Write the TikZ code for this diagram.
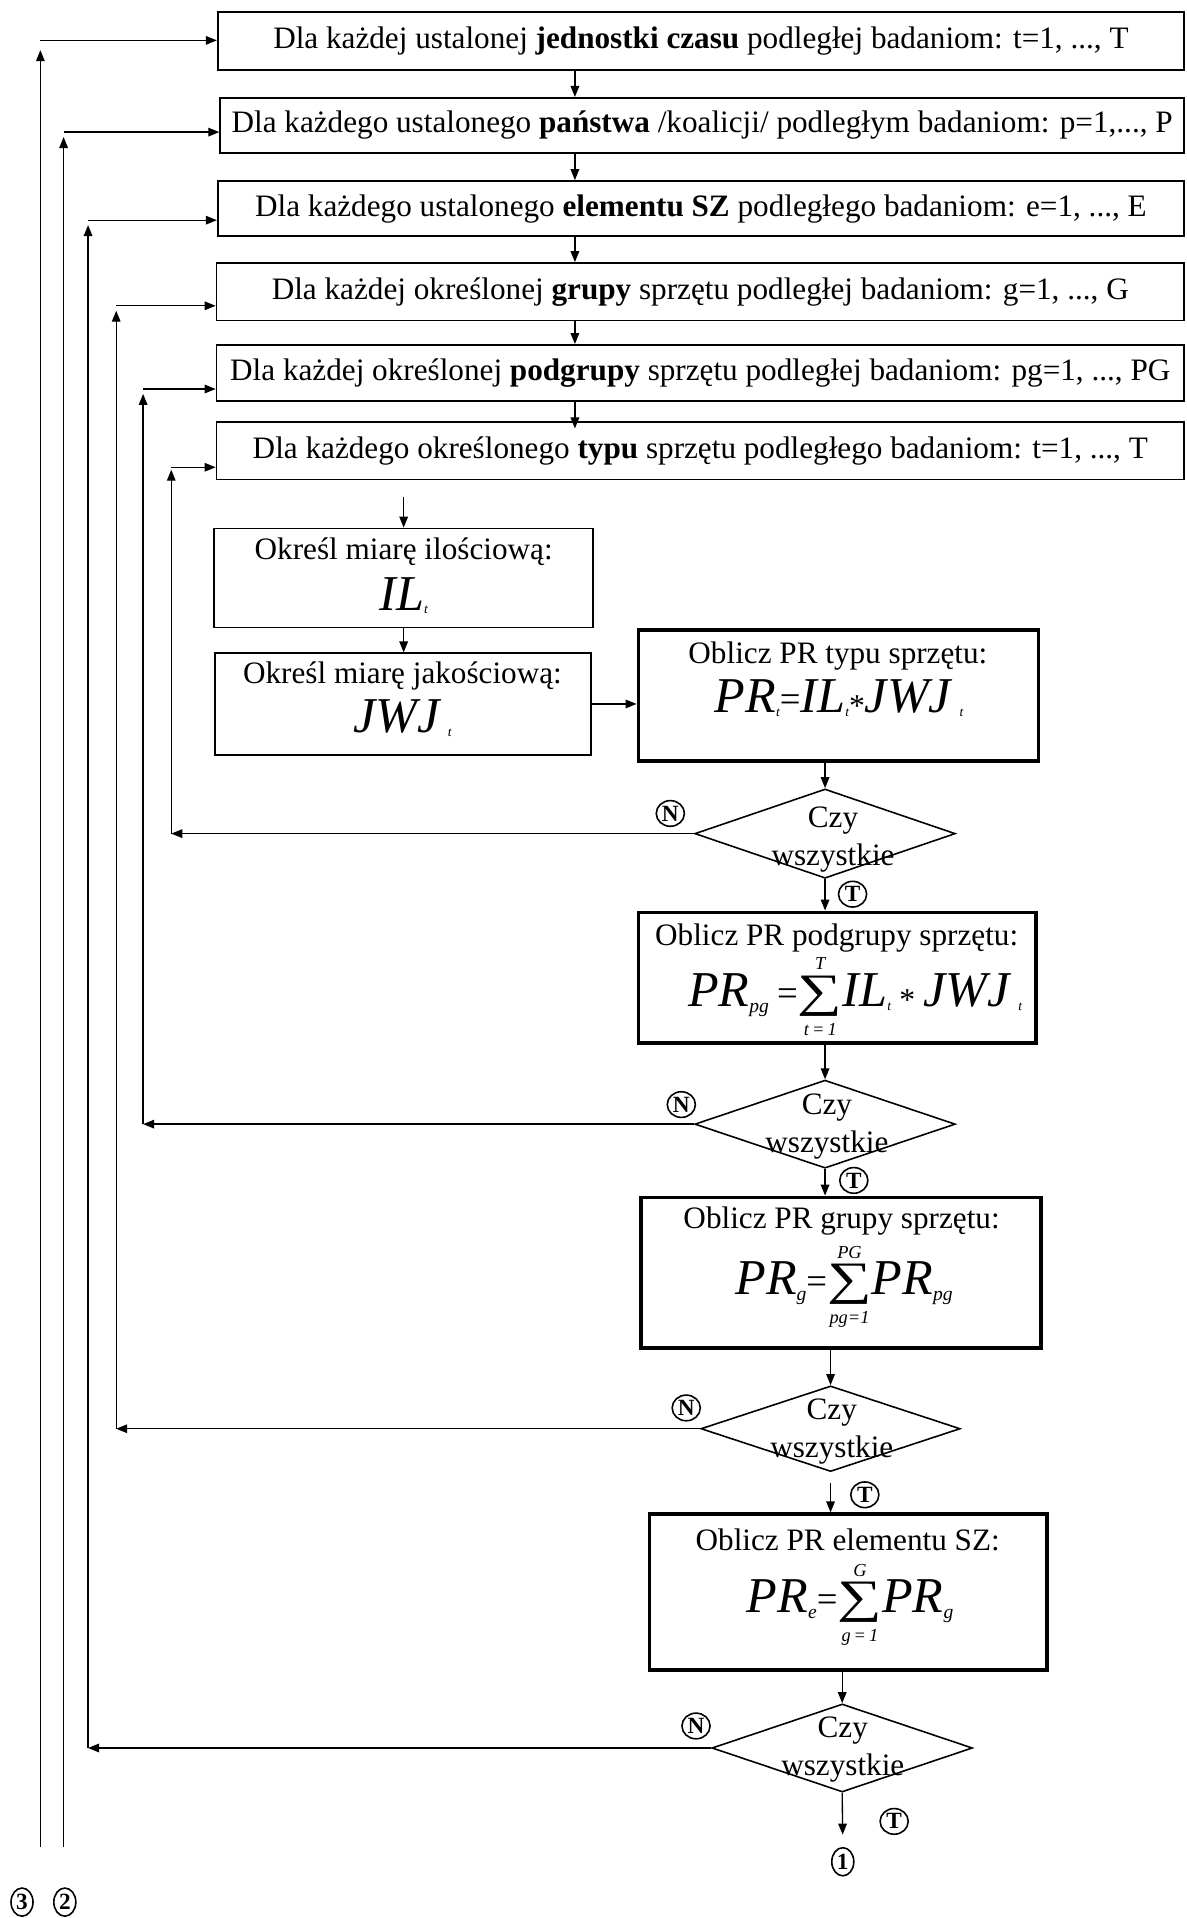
\documentclass[tikz,border=0pt]{standalone}
\usepackage{fontspec}
\usepackage{graphicx}
\setmainfont{Liberation Serif}
\usetikzlibrary{arrows.meta,shapes.geometric,calc}

\newcommand\myfbig{\fontsize{41}{41}\selectfont\itshape}
\newcommand\mysub[1]{\raisebox{-5pt}{\fontsize{16}{16}\selectfont\itshape #1}}
\newcommand\mytsub{\raisebox{-3pt}{\fontsize{11}{11}\selectfont\itshape t}}
\newcommand\myeq{\raisebox{1pt}{\fontsize{30}{30}\selectfont\upshape =}}
\newcommand\myast{\raisebox{-3pt}{\fontsize{26}{26}\selectfont\upshape *}}
\newcommand\mysum[2]{$\mathop{\hbox{\scalebox{1.35}[1]{\fontsize{38}{38}\selectfont\upshape ∑}}}\limits^{\hbox{\rule[-4pt]{0pt}{4pt}\fontsize{15}{15}\selectfont\itshape #2}}_{\hbox{\rule{0pt}{14pt}\fontsize{15}{15}\selectfont\itshape #1}}$}

\begin{document}
\begin{tikzpicture}[x=1pt,y=-1pt,
  arr/.style={-{Triangle[length=9pt,width=7pt]}, line width=1.1pt},
  topbox/.style={draw, line width=1.4pt, inner sep=0pt, font=\fontsize{25.5}{28}\selectfont},
  thinbox/.style={draw, line width=1.3pt, inner sep=0pt},
  thickbox/.style={draw, line width=3.2pt, inner sep=0pt},
  txt/.style={inner sep=0pt, font=\fontsize{25.5}{28}\selectfont},
  dtext/.style={inner sep=0pt, align=center, font=\fontsize{25.5}{31}\selectfont},
  dia/.style={draw, diamond, line width=1.3pt, inner sep=0pt},
  circ/.style={ellipse, draw, line width=1.3pt, inner sep=0pt, minimum width=23pt, minimum height=21pt, font=\bfseries\fontsize{19}{19}\selectfont},
  dcirc/.style={ellipse, draw, line width=1.3pt, inner sep=0pt, minimum width=18pt, minimum height=23pt, font=\bfseries\fontsize{19}{19}\selectfont}
]
\useasboundingbox (0,0) rectangle (970,1568);

% top loop boxes
\node[topbox, minimum width=790pt, minimum height=47pt] (b1) at (573,33.5) {Dla każdej ustalonej \textbf{jednostki czasu} podległej badaniom: t=1, ..., T};
\node[topbox, minimum width=788pt, minimum height=45pt] (b2) at (574,102.5) {Dla każdego ustalonego \textbf{państwa} /koalicji/ podległym badaniom: p=1,..., P};
\node[topbox, minimum width=790pt, minimum height=45pt] (b3) at (573,170.5) {Dla każdego ustalonego \textbf{elementu SZ} podległego badaniom: e=1, ..., E};
\node[topbox, minimum width=791pt, minimum height=47pt] (b4) at (572.5,238.5) {Dla każdej określonej \textbf{grupy} sprzętu podległej badaniom: g=1, ..., G};
\node[topbox, minimum width=791pt, minimum height=46pt] (b5) at (572.5,305) {Dla każdej określonej \textbf{podgrupy} sprzętu podległej badaniom: pg=1, ..., PG};
\node[topbox, minimum width=791pt, minimum height=47pt] (b6) at (572.5,368.5) {Dla każdego określonego \textbf{typu} sprzętu podległego badaniom: t=1, ..., T};

\coordinate (ax) at (470,0);
\draw[arr] (b1.south -| ax) -- (b2.north -| ax);
\draw[arr] (b2.south -| ax) -- (b3.north -| ax);
\draw[arr] (b3.south -| ax) -- (b4.north -| ax);
\draw[arr] (b4.south -| ax) -- (b5.north -| ax);
\draw[arr, shorten >=-6pt] (b5.south -| ax) -- (b6.north -| ax);

% measure boxes
\node[thinbox, minimum width=310pt, minimum height=81pt] (il) at (330,472.5) {};
\node[txt] (ilt) at (330,451) {Określ miarę ilościową:};
\node[txt] (ilf) at (330,487) {\myfbig IL\mytsub};

\node[thinbox, minimum width=307pt, minimum height=83pt] (jwj) at (329.5,575.5) {};
\node[txt] (jwjt) at (329,553) {Określ miarę jakościową:};
\node[txt] (jwjf) at (329,587) {\myfbig JWJ\,\mytsub};

\node[thickbox, minimum width=327pt, minimum height=107pt] (prt) at (685.5,568.5) {};
\node[txt] (prtt) at (685,536) {Oblicz PR typu sprzętu:};
\node[txt] (prtf) at (686,571) {\myfbig PR\mytsub\myeq IL\mytsub\myast JWJ\,\mytsub};

\node[thickbox, minimum width=325pt, minimum height=107pt] (prpg) at (684.5,799.5) {};
\node[txt] (prpgt) at (684,767) {Oblicz PR podgrupy sprzętu:};
\node[txt] (prpgf) at (699,815) {\myfbig PR\mysub{pg}\,\myeq\mysum{t\,=\,1}{T}IL\mytsub\,\myast\,JWJ\,\mytsub};

\node[thickbox, minimum width=327pt, minimum height=123pt] (prg) at (687.5,1040.5) {};
\node[txt] (prgt) at (688,998) {Oblicz PR grupy sprzętu:};
\node[txt] (prgf) at (690,1052) {\myfbig PR\mysub{g}\myeq\mysum{pg=1}{PG}PR\mysub{pg}};

\node[thickbox, minimum width=325pt, minimum height=127pt] (pre) at (693.5,1301.5) {};
\node[txt] (pret) at (693,1259) {Oblicz PR elementu SZ:};
\node[txt] (pref) at (695,1312) {\myfbig PR\mysub{e}\myeq\mysum{g\,=\,1}{G}PR\mysub{g}};

% diamonds
\node[dia, minimum width=213pt, minimum height=73pt] (d1) at (674.5,681.5) {};
\node[dtext] (q1) at (681,686) {Czy\\wszystkie};
\node[dia, minimum width=213pt, minimum height=72pt] (d2) at (674.5,919) {};
\node[dtext] (q2) at (676,921) {Czy\\wszystkie};
\node[dia, minimum width=212pt, minimum height=70pt] (d3) at (679,1168) {};
\node[dtext] (q3) at (680,1170) {Czy\\wszystkie};
\node[dia, minimum width=213pt, minimum height=72pt] (d4) at (688.5,1429) {};
\node[dtext] (q4) at (689,1430) {Czy\\wszystkie};

% main flow arrows
\draw[arr, shorten <=14pt] (b6.south -| il.north) -- (il.north);
\draw[arr] (il.south) -- (il.south |- jwj.north);
\draw[arr] (jwj.east) -- (jwj.east -| prt.west);
\draw[arr] (d1.north |- prt.south) -- (d1.north);
\draw[arr] (d1.south) -- (d1.south |- prpg.north);
\draw[arr] (d2.north |- prpg.south) -- (d2.north);
\draw[arr] (d2.south) -- (d2.south |- prg.north);
\draw[arr] (d3.north |- prg.south) -- (d3.north);
\draw[arr, shorten <=9pt] (d3.south) -- (d3.south |- pre.north);
\draw[arr] (d4.north |- pre.south) -- (d4.north);

\node[circ] (t1) at (697,731) {T};
\node[circ] (t2) at (698,965) {T};
\node[circ] (t3) at (707,1222) {T};
\node[circ] (t4) at (731,1489) {T};
\node[circ] (n1) at (548,665) {N};
\node[circ] (n2) at (557,903) {N};
\node[circ] (n3) at (561,1151) {N};
\node[circ] (n4) at (569,1411) {N};
\node[dcirc] (c1) at (689,1522) {1};
\node[dcirc] (c3) at (18,1555) {3};
\node[dcirc] (c2) at (53,1555) {2};
\draw[arr, shorten >=10pt] (d4.south) -- (c1.north);

% loop-back lines
\coordinate (l1) at (33,33);  \coordinate (e1) at (33,1510);
\coordinate (l2) at (52,108); \coordinate (e2) at (52,1510);
\coordinate (l3) at (72,180);
\coordinate (l4) at (95,250);
\coordinate (l5) at (117,318);
\coordinate (l6) at (140,382);

\draw[arr] (e1) -- ($(l1)+(0,8)$);
\draw[arr] (l1) -- (l1 -| b1.west);
\draw[arr] (e2) -- ($(l2)+(0,4)$);
\draw[arr] (l2) -- (l2 -| b2.west);

\draw[arr] (d4.west) -- (d4.west -| l3);
\draw[arr] (d4.west -| l3) -- ($(l3)+(0,4)$);
\draw[arr] (l3) -- (l3 -| b3.west);

\draw[arr] (d3.west) -- (d3.west -| l4);
\draw[arr] (d3.west -| l4) -- ($(l4)+(0,4)$);
\draw[arr] (l4) -- (l4 -| b4.west);

\draw[arr] (d2.west) -- (d2.west -| l5);
\draw[arr] (d2.west -| l5) -- ($(l5)+(0,4)$);
\draw[arr] (l5) -- (l5 -| b5.west);

\draw[arr] (d1.west) -- (d1.west -| l6);
\draw[arr] (d1.west -| l6) -- ($(l6)+(0,2)$);
\draw[arr] (l6) -- (l6 -| b6.west);
\end{tikzpicture}
\end{document}
